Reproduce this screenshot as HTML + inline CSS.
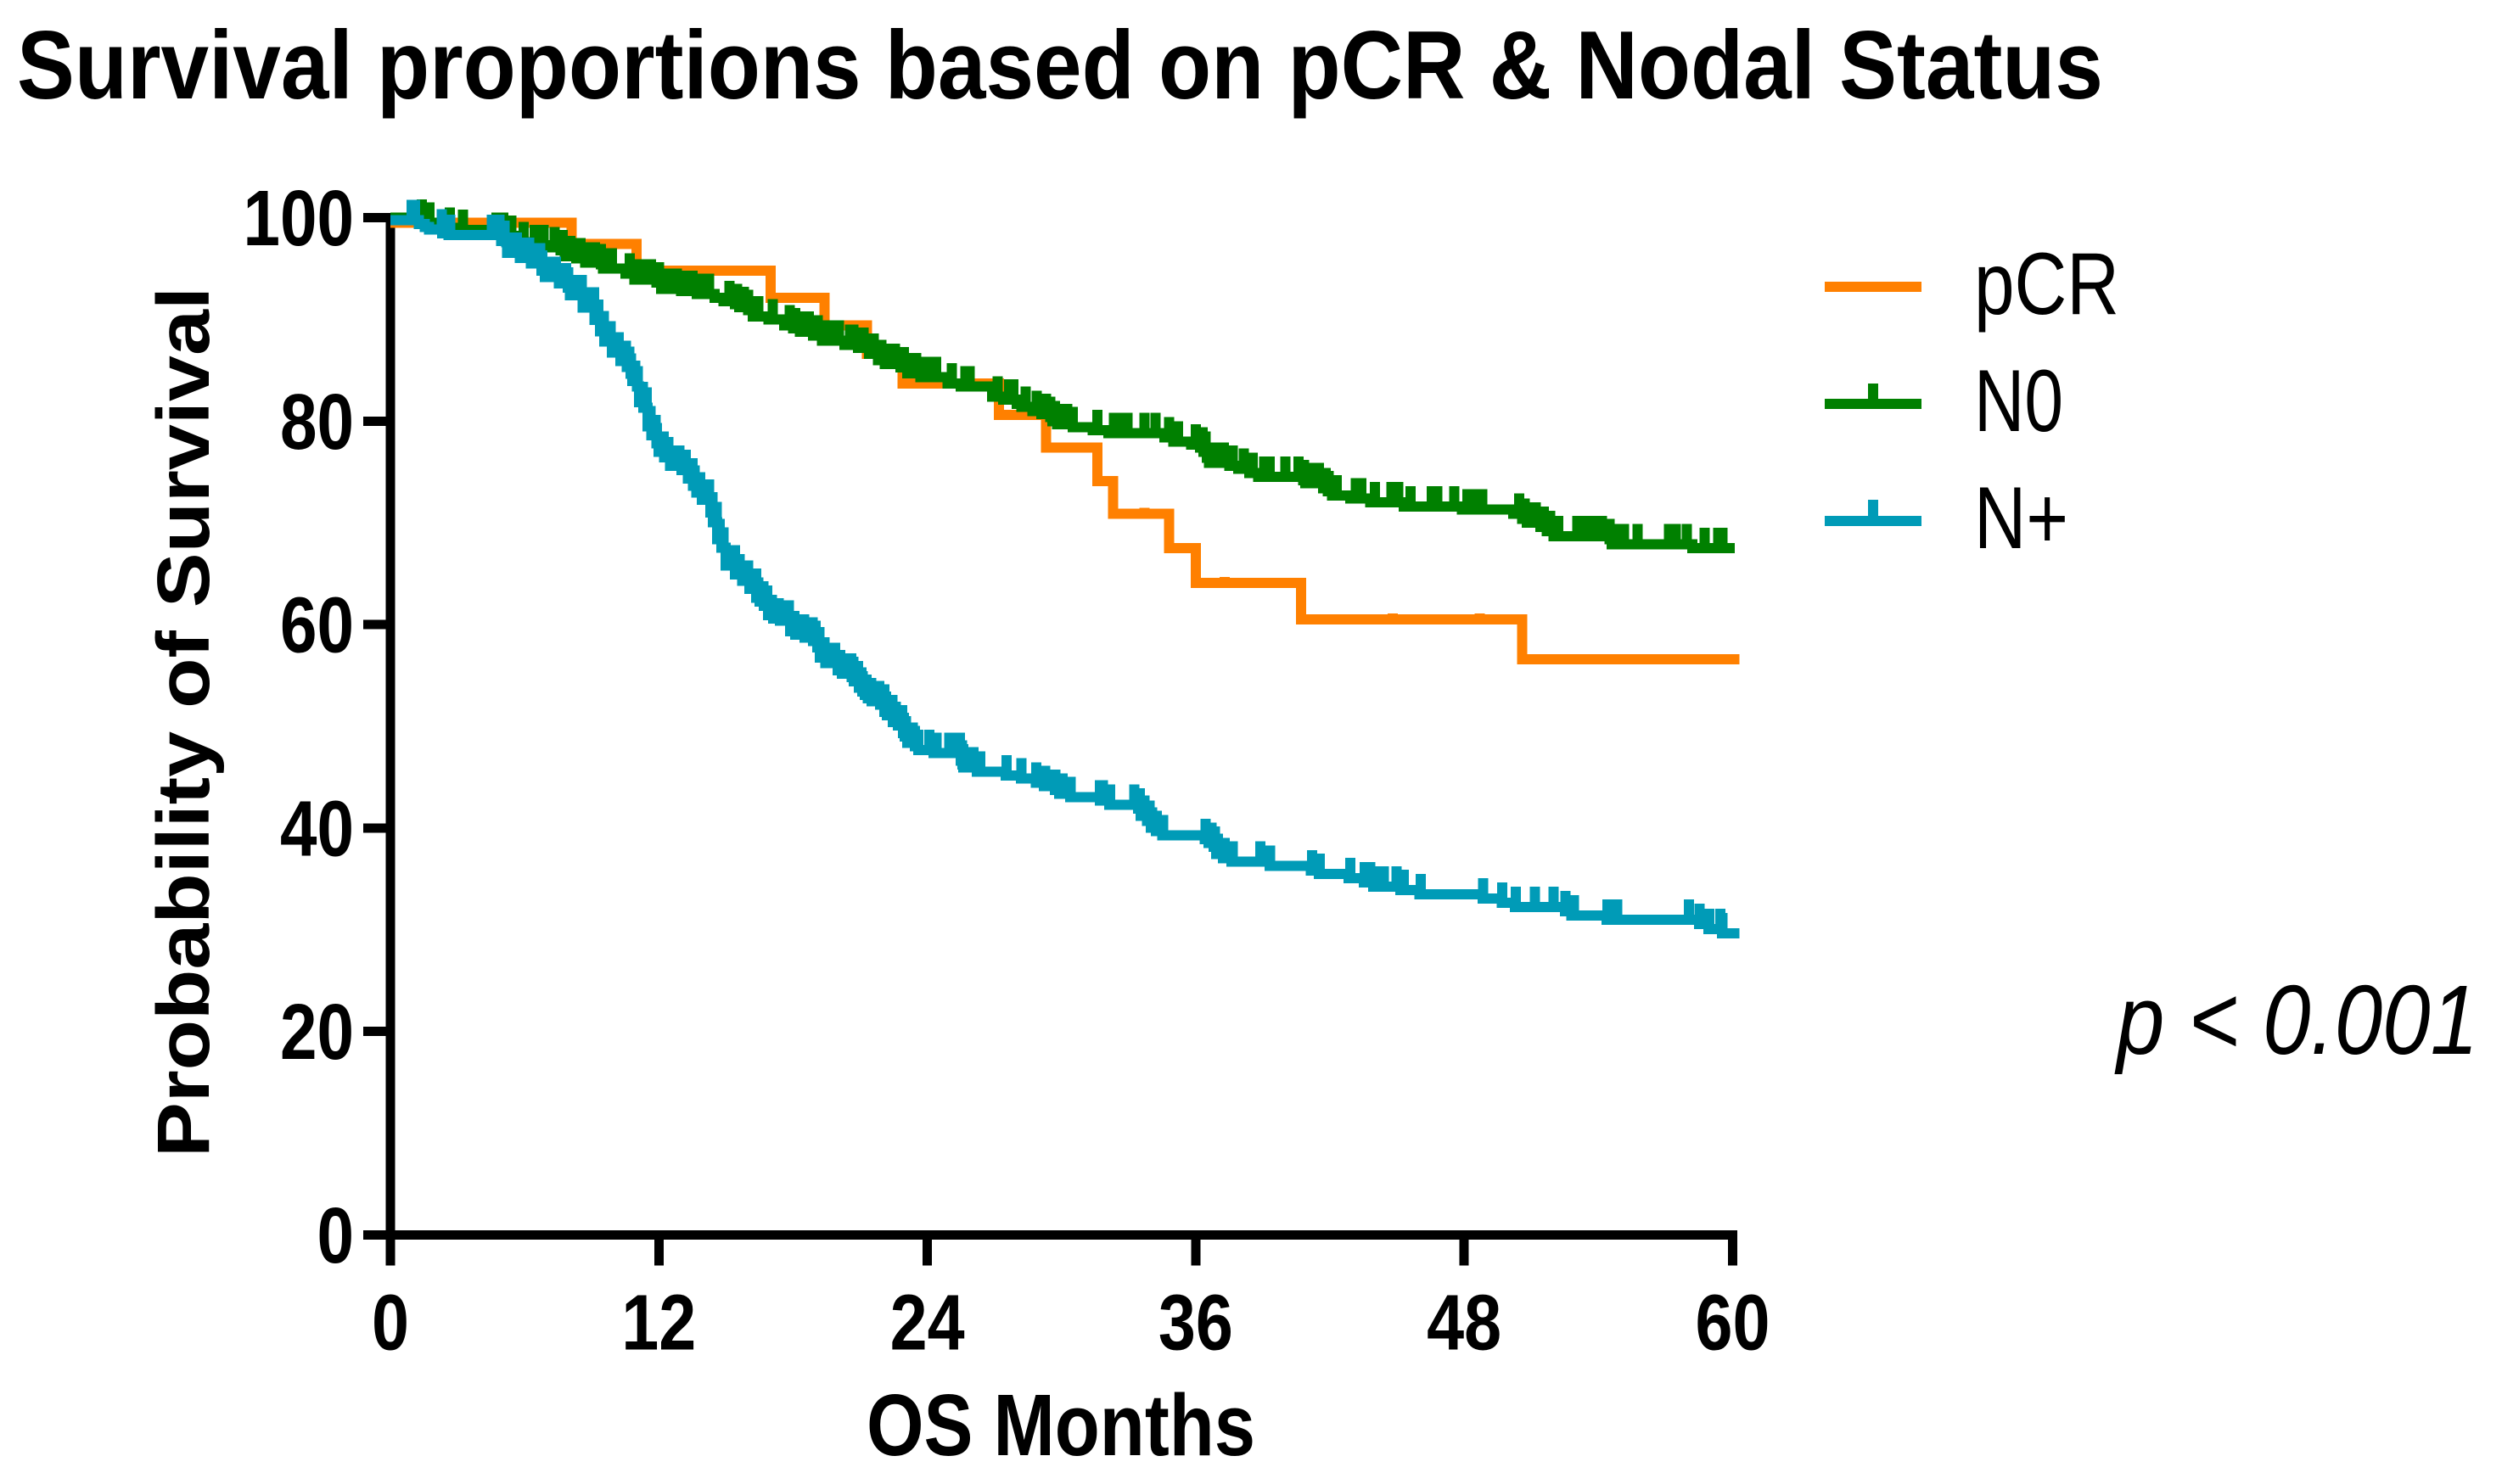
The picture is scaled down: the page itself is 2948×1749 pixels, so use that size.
<!DOCTYPE html>
<html lang="en">
<head>
<meta charset="utf-8">
<title>Survival proportions based on pCR &amp; Nodal Status</title>
<style>
html,body{margin:0;padding:0;background:#fff;}
svg{display:block;}
text{font-family:"Liberation Sans",sans-serif;fill:#000;}
.bold{font-weight:700;}
</style>
</head>
<body>
<svg id="chart" xmlns="http://www.w3.org/2000/svg" width="2948" height="1749" viewBox="0 0 2948 1749">
  <rect x="0" y="0" width="2948" height="1749" fill="#ffffff"/>
  <text class="bold" x="20" y="116" font-size="114" textLength="2458" lengthAdjust="spacingAndGlyphs">Survival proportions based on pCR &amp; Nodal Status</text>
  <g id="axes"></g>
  <g id="series"></g>
  <text class="bold" transform="translate(246,1364) rotate(-90)" x="0" y="0" font-size="87" textLength="1026" lengthAdjust="spacingAndGlyphs">Probability of Survival</text>
  <text class="bold" x="1021" y="1715" font-size="103" textLength="458" lengthAdjust="spacingAndGlyphs">OS Months</text>
  <g>
    <g>
      <rect x="2150" y="332" width="114" height="12" fill="#ff8000" shape-rendering="crispEdges"/>
      <text x="2326" y="370" font-size="104" textLength="171" lengthAdjust="spacingAndGlyphs">pCR</text>
    </g>
    <g>
      <rect x="2150" y="470" width="114" height="12" fill="#008000" shape-rendering="crispEdges"/>
      <rect x="2201" y="452" width="12" height="20" fill="#008000" shape-rendering="crispEdges"/>
      <text x="2326" y="508" font-size="104" textLength="105" lengthAdjust="spacingAndGlyphs">N0</text>
    </g>
    <g>
      <rect x="2150" y="608" width="114" height="12" fill="#009bb7" shape-rendering="crispEdges"/>
      <rect x="2201" y="589" width="12" height="21" fill="#009bb7" shape-rendering="crispEdges"/>
      <text x="2326" y="646" font-size="104" textLength="111" lengthAdjust="spacingAndGlyphs">N+</text>
    </g>
  </g>
  <text font-style="italic" x="2494" y="1242" font-size="116" textLength="426" lengthAdjust="spacingAndGlyphs" xml:space="preserve">p &lt; 0.001</text>
</svg>
<script>
const xTickLabels = [0, 12, 24, 36, 48, 60];
const yTickLabels = [0, 20, 40, 60, 80, 100];

const pcrTimes = [0, 8.1, 11.0, 17.0, 19.4, 21.3, 22.9, 27.2, 29.3, 31.6, 32.3, 34.8, 36.0, 40.7, 50.6];
const pcrSurvival = [99.5, 97.4, 94.8, 92.1, 89.4, 86.6, 83.7, 80.6, 77.4, 74.1, 70.9, 67.5, 64.1, 60.5, 56.6];
const pcrCensored = [33.7, 37.3, 44.8, 48.7];
const pcrEnd = 60.3;

const n0Times = [0, 1.2, 1.6, 2.4, 3.0, 4.5, 5.3, 5.7, 6.2, 7.1, 7.6, 7.8, 8.3, 8.7, 9.4, 9.5, 10.5, 10.9, 11.9, 12.1, 13.0, 13.7, 14.5, 14.9, 15.4, 15.6, 16.0, 16.2, 16.9, 17.6, 18.0, 18.3, 18.9, 19.3, 20.3, 20.9, 21.4, 21.8, 22.1, 22.8, 23.1, 23.7, 24.9, 25.5, 26.9, 27.4, 28.0, 28.2, 28.7, 29.1, 29.5, 29.6, 29.8, 30.5, 31.4, 32.1, 34.6, 35.0, 35.8, 36.2, 36.35, 36.5, 36.6, 37.5, 37.9, 38.4, 38.8, 40.8, 40.9, 41.7, 41.9, 42.1, 42.9, 43.8, 45.3, 47.9, 50.2, 50.6, 50.8, 51.4, 51.7, 52.0, 54.5, 54.6, 58.2];
const n0Survival = [100, 99.8, 99.5, 99.0, 98.8, 98.5, 98.2, 97.6, 97.3, 97.1, 96.8, 96.2, 96.0, 95.6, 95.4, 95.0, 94.5, 93.9, 93.6, 93.0, 92.8, 92.5, 92.1, 91.8, 91.5, 91.2, 90.9, 90.3, 90.0, 89.4, 89.1, 88.8, 88.4, 87.9, 87.5, 87.2, 86.6, 86.0, 85.6, 85.3, 84.7, 84.3, 83.7, 83.4, 82.4, 82.1, 81.7, 81.4, 81.0, 80.7, 80.4, 80.0, 79.7, 79.4, 79.1, 78.8, 78.4, 78.0, 77.7, 77.4, 77.0, 76.4, 75.9, 75.6, 75.3, 74.9, 74.5, 74.2, 73.9, 73.4, 73.1, 72.7, 72.4, 72.0, 71.6, 71.3, 70.9, 70.4, 70.0, 69.6, 69.2, 68.7, 68.4, 67.9, 67.5];
const n0Censored = [1.4, 1.75, 2.65, 3.25, 4.75, 5.05, 5.4, 5.95, 6.45, 6.85, 7.35, 7.7, 7.95, 8.05, 8.5, 8.95, 9.15, 9.4, 9.75, 9.9, 10.7, 11.15, 11.4, 11.65, 12.0, 12.4, 12.8, 13.25, 13.5, 13.95, 14.25, 15.15, 15.5, 15.8, 16.0, 16.45, 17.1, 17.85, 18.1, 18.55, 18.7, 19.1, 19.55, 19.8, 20.05, 20.55, 20.7, 21.15, 21.6, 21.95, 22.35, 22.55, 22.95, 23.35, 23.5, 23.95, 24.2, 24.4, 25.1, 25.7, 25.9, 27.15, 27.65, 27.85, 28.4, 28.9, 29.3, 29.5, 29.7, 30.05, 30.25, 30.5, 31.6, 32.35, 32.65, 32.95, 33.7, 34.2, 34.8, 35.2, 36.0, 36.3, 36.45, 36.8, 37.25, 37.65, 38.15, 38.55, 39.05, 39.3, 40.0, 40.6, 40.85, 40.95, 41.35, 41.5, 41.8, 41.95, 42.3, 43.15, 43.4, 44.0, 44.75, 45.05, 45.6, 46.55, 46.8, 47.55, 48.15, 48.5, 48.8, 50.45, 50.7, 51.05, 51.2, 51.55, 51.85, 52.2, 53.05, 53.4, 53.8, 54.15, 54.5, 54.85, 55.15, 55.75, 57.15, 57.45, 57.95, 58.75, 59.35, 59.55];
const n0End = 60.1;

const nPlusTimes = [0, 1.28, 1.53, 1.73, 2.31, 2.6, 4.96, 5.17, 5.21, 5.79, 6.28, 6.76, 6.91, 7.53, 7.92, 8.02, 8.6, 9.12, 9.37, 9.57, 9.9, 10.28, 10.57, 10.73, 10.82, 11.02, 11.11, 11.31, 11.5, 11.66, 11.89, 11.99, 12.24, 12.51, 13.01, 13.3, 13.53, 13.67, 13.92, 14.31, 14.41, 14.6, 14.79, 14.99, 15.41, 15.72, 16.05, 16.36, 16.5, 16.69, 16.88, 17.12, 17.41, 17.87, 18.1, 18.51, 18.9, 19.09, 19.2, 19.44, 20.0, 20.19, 20.62, 20.71, 20.95, 21.1, 21.2, 21.35, 21.51, 21.9, 22.09, 22.19, 22.46, 22.69, 22.92, 23.0, 23.1, 23.44, 23.6, 24.28, 25.5, 25.57, 25.61, 26.21, 27.51, 28.19, 28.86, 29.21, 29.71, 29.89, 30.39, 31.71, 32.13, 33.43, 33.53, 33.82, 33.99, 34.22, 34.51, 36.41, 36.57, 36.8, 36.91, 37.22, 37.59, 39.3, 41.15, 41.5, 42.84, 43.52, 43.94, 45.14, 46.01, 48.82, 49.69, 50.27, 52.5, 52.8, 54.37, 58.5, 58.92, 59.52];
const nPlusSurvival = [99.75, 99.38, 99.1, 98.82, 98.46, 98.27, 97.71, 97.57, 96.52, 96.04, 95.49, 94.79, 94.15, 93.54, 93.12, 92.35, 91.18, 89.93, 88.82, 87.84, 86.73, 85.9, 85.34, 84.65, 83.95, 83.39, 81.87, 81.31, 79.5, 78.61, 77.83, 77, 76.44, 75.61, 75.19, 74.36, 73.66, 72.97, 72.27, 71.02, 70.05, 68.38, 67.55, 65.8, 64.91, 64.3, 63.52, 62.62, 62.26, 61.84, 60.92, 60.59, 60.37, 59.34, 59.0, 58.7, 58.37, 57.75, 56.75, 56.2, 55.5, 55.17, 54.84, 54.42, 53.78, 53.42, 53.08, 52.75, 52.45, 52.11, 51.42, 51.08, 50.42, 50.08, 49.33, 49.0, 48.36, 48.03, 47.66, 47.36, 46.61, 46.25, 45.94, 45.52, 45.16, 44.86, 44.44, 44.1, 43.74, 43.35, 43.02, 42.69, 42.27, 41.91, 41.19, 40.71, 40.02, 39.68, 39.27, 38.91, 38.52, 38.16, 37.43, 37.02, 36.68, 36.27, 35.82, 35.49, 35.07, 34.65, 34.24, 33.9, 33.49, 33.07, 32.65, 32.23, 31.82, 31.4, 30.98, 30.57, 30.07, 29.65];
const nPlusCensored = [0.95, 1.1, 2.29, 2.68, 4.54, 4.87, 5.0, 5.1, 5.25, 5.4, 5.5, 5.65, 5.8, 5.9, 6.0, 6.1, 6.2, 6.35, 6.45, 6.6, 6.7, 6.8, 6.95, 7.05, 7.2, 7.3, 7.4, 7.55, 7.7, 7.85, 7.95, 8.1, 8.2, 8.35, 8.45, 8.55, 8.7, 8.8, 8.9, 9.0, 9.1, 9.2, 9.3, 9.4, 9.48, 9.55, 9.65, 9.75, 9.85, 9.95, 10.03, 10.1, 10.2, 10.3, 10.38, 10.45, 10.52, 10.6, 10.68, 10.75, 10.85, 10.95, 11.05, 11.12, 11.2, 11.28, 11.35, 11.45, 11.55, 11.62, 11.7, 11.78, 11.85, 11.92, 12.0, 12.08, 12.15, 12.22, 12.3, 12.42, 12.55, 12.68, 12.8, 12.92, 13.05, 13.12, 13.2, 13.3, 13.4, 13.5, 13.6, 13.68, 13.75, 13.85, 13.95, 14.02, 14.1, 14.18, 14.25, 14.33, 14.4, 14.5, 14.58, 14.65, 14.72, 14.8, 14.9, 15.0, 15.1, 15.2, 15.3, 15.4, 15.5, 15.62, 15.75, 15.88, 16.0, 16.12, 16.25, 16.35, 16.45, 16.52, 16.6, 16.68, 16.75, 16.85, 16.95, 17.05, 17.15, 17.25, 17.35, 17.42, 17.5, 17.6, 17.7, 17.82, 17.95, 18.05, 18.15, 18.28, 18.4, 18.5, 18.6, 18.68, 18.75, 18.88, 19.0, 19.1, 19.18, 19.25, 19.32, 19.4, 19.48, 19.55, 19.65, 19.75, 19.88, 20.0, 20.1, 20.2, 20.3, 20.4, 20.5, 20.6, 20.7, 20.8, 20.9, 20.98, 21.05, 21.12, 21.2, 21.28, 21.35, 21.42, 21.5, 21.6, 21.7, 21.78, 21.85, 21.92, 22.0, 22.08, 22.15, 22.25, 22.35, 22.45, 22.52, 22.6, 22.7, 22.8, 22.88, 22.95, 23.05, 23.12, 23.2, 23.28, 23.35, 23.45, 23.6, 24.09, 24.41, 24.98, 25.27, 25.46, 25.55, 25.6, 26.06, 26.37, 27.55, 28.2, 28.87, 29.27, 29.72, 30.05, 30.4, 31.72, 31.85, 32.17, 33.26, 33.5, 33.7, 33.94, 34.05, 34.25, 34.55, 36.45, 36.7, 36.85, 37.0, 37.3, 37.65, 38.89, 39.32, 41.2, 41.54, 42.9, 43.55, 43.8, 44.1, 44.4, 44.97, 45.3, 46.05, 48.85, 49.7, 50.3, 51.16, 52.0, 52.52, 52.9, 54.4, 54.84, 58.05, 58.52, 58.95, 59.46, 59.55];
const nPlusEnd = 60.3;

const SVG_NS = 'http://www.w3.org/2000/svg';
const xOrigin = 460;
const xPerMonth = 26.358;
const yOrigin = 1455.5;
const yPerPercent = 11.99;
const lineWidth = 12;
const axisWidth = 11;

function xScale(month) { return xOrigin + month * xPerMonth; }
function yScale(percent) { return yOrigin - percent * yPerPercent; }
function levelAt(times, values, t) {
  let level = values[0];
  for (let i = 0; i < times.length; i++) {
    if (times[i] <= t) level = values[i];
  }
  return level;
}
function make(tag, attrs) {
  const el = document.createElementNS(SVG_NS, tag);
  Object.keys(attrs).forEach(function (k) { el.setAttribute(k, attrs[k]); });
  return el;
}

const axes = document.getElementById('axes');

const yAxisLine = make('rect', {
  x: xOrigin - axisWidth / 2, y: yScale(100) - axisWidth / 2,
  width: axisWidth, height: 1491.7 - yScale(100) + axisWidth / 2,
  fill: '#000', 'shape-rendering': 'crispEdges'
});


axes.appendChild(yAxisLine);

const xAxisLine = make('rect', {
  x: 428, y: yOrigin - axisWidth / 2,
  width: xScale(60) + axisWidth / 2 - 428, height: axisWidth,
  fill: '#000', 'shape-rendering': 'crispEdges'
});


axes.appendChild(xAxisLine);

xTickLabels.forEach(function (value) {
  const tick = make('rect', {
    x: xScale(value) - axisWidth / 2, y: yOrigin,
    width: axisWidth, height: 1491.7 - yOrigin,
    fill: '#000', 'shape-rendering': 'crispEdges'
  });
  
  
  axes.appendChild(tick);

  const label = make('text', {
    x: xScale(value), y: 1590.5, 'font-size': 93, 'text-anchor': 'middle',
    textLength: String(value).length * 44, lengthAdjust: 'spacingAndGlyphs', 'class': 'bold'
  });
  label.textContent = String(value);
  
  
  axes.appendChild(label);
});

yTickLabels.forEach(function (value) {
  const tick = make('rect', {
    x: 428, y: yScale(value) - axisWidth / 2,
    width: xOrigin - 428, height: axisWidth,
    fill: '#000', 'shape-rendering': 'crispEdges'
  });
  
  
  axes.appendChild(tick);

  const label = make('text', {
    x: 417, y: yScale(value) + 32.5, 'font-size': 93, 'text-anchor': 'end',
    textLength: String(value).length * 43.5, lengthAdjust: 'spacingAndGlyphs', 'class': 'bold'
  });
  label.textContent = String(value);
  
  
  axes.appendChild(label);
});

const seriesGroup = document.getElementById('series');

function drawSeries(times, survival, censored, end, color, censorHeight, lineName, censorName) {
  let d = 'M' + xScale(times[0]).toFixed(1) + ' ' + yScale(survival[0]).toFixed(1);
  for (let i = 1; i < times.length; i++) {
    d += 'H' + xScale(times[i]).toFixed(1) + 'V' + yScale(survival[i]).toFixed(1);
  }
  d += 'H' + xScale(end).toFixed(1);
  const line = make('path', {
    d: d, fill: 'none', stroke: color, 'stroke-width': lineWidth,
    'stroke-linejoin': 'miter', 'stroke-linecap': 'butt', 'shape-rendering': 'crispEdges'
  });
  
  
  seriesGroup.appendChild(line);

  let c = '';
  censored.forEach(function (t) {
    const y = yScale(levelAt(times, survival, t));
    const cx = xScale(t);
    c += 'M' + cx.toFixed(1) + ' ' + y.toFixed(1) + 'V' + (y - censorHeight).toFixed(1);
  });
  const marks = make('path', {
    d: c, fill: 'none', stroke: color, 'stroke-width': lineWidth,
    'stroke-linecap': 'butt', 'shape-rendering': 'crispEdges'
  });
  
  
  seriesGroup.appendChild(marks);
}

drawSeries(pcrTimes, pcrSurvival, pcrCensored, pcrEnd, '#ff8000', 7, 'pcr-curve', 'pcr-censor-marks');
drawSeries(n0Times, n0Survival, n0Censored, n0End, '#008000', 24, 'n0-curve', 'n0-censor-marks');
drawSeries(nPlusTimes, nPlusSurvival, nPlusCensored, nPlusEnd, '#009bb7', 24, 'n-plus-curve', 'n-plus-censor-marks');
</script>
</body>
</html>
